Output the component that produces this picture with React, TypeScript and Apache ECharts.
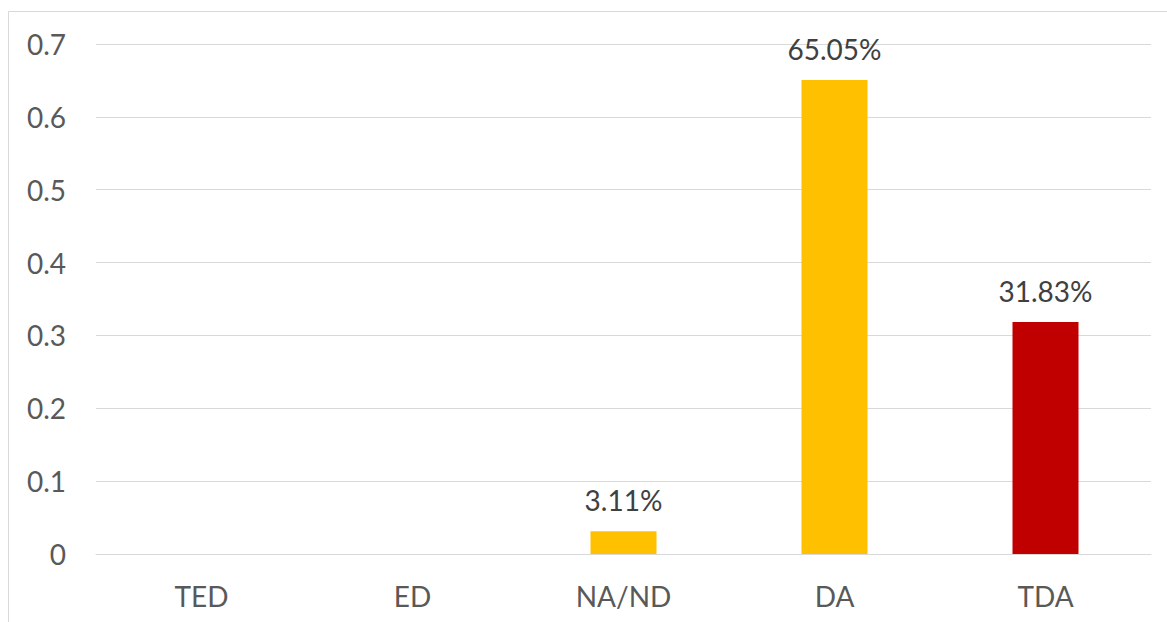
import React, { useEffect, useRef } from "react";
import * as echarts from "echarts";

const categories = ["TED", "ED", "NA/ND", "DA", "TDA"];
const values = [0, 0, 0.0311, 0.6505, 0.3183];
const barColors = ["#FFC000", "#FFC000", "#FFC000", "#FFC000", "#C00000"];
const yTicks = { min: 0, max: 0.7, interval: 0.1 };

export default function App() {
  const ref = useRef<HTMLDivElement>(null);
  useEffect(() => {
    if (!ref.current) return;
    const chart = echarts.init(ref.current, null, { renderer: "svg" });
    const font = "Lato, 'Open Sans', sans-serif";
    chart.setOption({
      animation: false,
      backgroundColor: "#ffffff",
      textStyle: { fontFamily: font },
      graphic: [
        {
          type: "rect",
          shape: { x: 8.5, y: 11.5, width: 1300, height: 800 },
          style: { fill: "none", stroke: "#d9d9d9", lineWidth: 1 },
          silent: true,
        },
      ],
      grid: { left: 96, right: 16, top: 44, bottom: 68, containLabel: false },
      xAxis: {
        type: "category",
        data: categories,
        axisTick: { show: false },
        axisLine: { show: true, lineStyle: { color: "#d9d9d9", width: 1 } },
        axisLabel: { color: "#595959", fontSize: 28, fontFamily: font, margin: 28 },
      },
      yAxis: {
        type: "value",
        min: yTicks.min,
        max: yTicks.max,
        interval: yTicks.interval,
        axisLine: { show: false },
        axisTick: { show: false },
        splitLine: { lineStyle: { color: "#d9d9d9", width: 1 } },
        axisLabel: { color: "#595959", fontSize: 28, fontFamily: font, margin: 30 },
      },
      series: [
        {
          type: "bar",
          barWidth: 66,
          data: values.map((v, i) => ({
            value: v,
            itemStyle: { color: barColors[i] },
            label: { show: v > 0 },
          })),
          label: {
            position: "top",
            distance: 17,
            color: "#404040",
            fontSize: 28,
            fontFamily: font,
            formatter: (p: any) => (p.value * 100).toFixed(2) + "%",
          },
        },
      ],
    });
    return () => chart.dispose();
  }, []);
  return (
    <div
      ref={ref}
      style={{ position: "fixed", left: 0, top: 0, width: 1167, height: 622 }}
    />
  );
}
